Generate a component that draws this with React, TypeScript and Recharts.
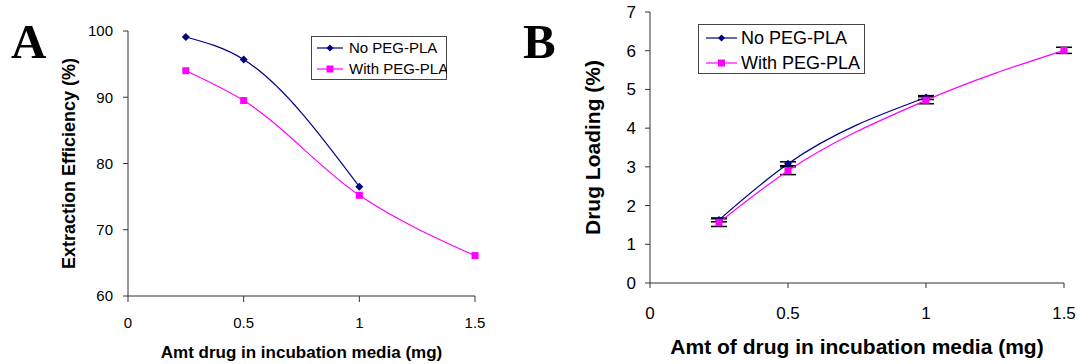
import { LineChart, Line, XAxis, YAxis, Legend, ErrorBar, Label } from 'recharts';

const FONT = '"Liberation Sans", Arial, sans-serif';
const NAVY = '#000080';
const MAGENTA = '#FF00FF';
const AXIS = '#333';

// x values (mg drug in incubation media)
const doses = [0.25, 0.5, 1, 1.5];
const xTicks = [0, 0.5, 1, 1.5];

// panel A: extraction efficiency (%)
const effNoPeg = [99.1, 95.7, 76.5, null];
const effWithPeg = [94.0, 89.5, 75.2, 66.1];
const effTicks = [60, 70, 80, 90, 100];

// panel B: drug loading (%)
const loadNoPeg = [1.63, 3.08, 4.79, null];
const loadNoPegErr = [0.05, 0.05, 0.05, null];
const loadWithPeg = [1.56, 2.9, 4.72, 6.01];
const loadWithPegErr = [0.1, 0.1, 0.09, 0.08];
const loadTicks = [0, 1, 2, 3, 4, 5, 6, 7];

const seriesNames = ['No PEG-PLA', 'With PEG-PLA'];

const effData = doses.map((x, i) => ({ x, noPeg: effNoPeg[i], withPeg: effWithPeg[i] }));
const loadData = doses.map((x, i) => ({
  x,
  noPeg: loadNoPeg[i],
  noPegErr: loadNoPegErr[i],
  withPeg: loadWithPeg[i],
  withPegErr: loadWithPegErr[i],
}));

const Diamond = (props: any) => {
  const { cx, cy, index } = props;
  if (cx == null || cy == null) return <g key={index} />;
  const r = 4;
  return <path key={index} d={`M${cx},${cy - r}L${cx + r},${cy}L${cx},${cy + r}L${cx - r},${cy}Z`} fill={NAVY} />;
};

const Square = (props: any) => {
  const { cx, cy, index } = props;
  if (cx == null || cy == null) return <g key={index} />;
  const r = 3.5;
  return <rect key={index} x={cx - r} y={cy - r} width={r * 2} height={r * 2} fill={MAGENTA} />;
};

function LegendBox({ w, h, rows, x0, x1, tx, fontSize }: any) {
  const mx = (x0 + x1) / 2;
  return (
    <svg width={w} height={h} style={{ display: 'block' }}>
      <rect x={0.5} y={0.5} width={w - 1} height={h - 1} fill="#fff" stroke="#444" strokeWidth={1} />
      <line x1={x0} x2={x1} y1={rows[0]} y2={rows[0]} stroke={NAVY} strokeWidth={1.2} />
      <path d={`M${mx},${rows[0] - 3.5}L${mx + 3.5},${rows[0]}L${mx},${rows[0] + 3.5}L${mx - 3.5},${rows[0]}Z`} fill={NAVY} />
      <text x={tx} y={rows[0]} dy="0.36em" fontSize={fontSize} fontFamily={FONT} fill="#000">{seriesNames[0]}</text>
      <line x1={x0} x2={x1} y1={rows[1]} y2={rows[1]} stroke={MAGENTA} strokeWidth={1.2} />
      <rect x={mx - 3.5} y={rows[1] - 3.5} width={7} height={7} fill={MAGENTA} />
      <text x={tx} y={rows[1]} dy="0.36em" fontSize={fontSize} fontFamily={FONT} fill="#000">{seriesNames[1]}</text>
    </svg>
  );
}

export default function App() {
  return (
    <div style={{ position: 'absolute', left: 0, top: 0, width: 1081, height: 364, background: '#fff' }}>
      <div style={{ position: 'absolute', left: 0, top: 0 }}>
        <LineChart width={540} height={364} data={effData} margin={{ top: 31, right: 65, bottom: 0, left: 58 }}>
          <XAxis
            type="number"
            dataKey="x"
            domain={[0, 1.5]}
            ticks={xTicks}
            height={68}
            tickSize={6}
            tickMargin={15}
            stroke={AXIS}
            tick={{ fontSize: 15, fill: '#000', fontFamily: FONT }}
          >
            <Label
              value="Amt drug in incubation media (mg)"
              position="insideBottom"
              offset={6}
              style={{ fontSize: 17, fontWeight: 'bold', fill: '#000', fontFamily: FONT, textAnchor: 'middle' }}
            />
          </XAxis>
          <YAxis
            type="number"
            domain={[60, 100]}
            ticks={effTicks}
            width={70}
            tickSize={5}
            tickMargin={10}
            stroke={AXIS}
            tick={{ fontSize: 15, fill: '#000', fontFamily: FONT }}
          >
            <Label
              value="Extraction Efficiency (%)"
              angle={-90}
              position="insideLeft"
              offset={11}
              style={{ fontSize: 18, fontWeight: 'bold', fill: '#000', fontFamily: FONT, textAnchor: 'middle' }}
            />
          </YAxis>
          <Legend
            layout="vertical"
            align="center"
            verticalAlign="middle"
            wrapperStyle={{ left: 311, top: 36, width: 136, height: 44 }}
            content={() => <LegendBox w={136} h={44} rows={[12, 33]} x0={6} x1={32} tx={38} fontSize={15} />}
          />
          <Line type="monotone" dataKey="noPeg" stroke={NAVY} strokeWidth={1.2} dot={Diamond} activeDot={false} isAnimationActive={false} />
          <Line type="monotone" dataKey="withPeg" stroke={MAGENTA} strokeWidth={1.2} dot={Square} activeDot={false} isAnimationActive={false} />
        </LineChart>
      </div>
      <div style={{ position: 'absolute', left: 540, top: 0 }}>
        <LineChart width={541} height={364} data={loadData} margin={{ top: 12, right: 17, bottom: 0, left: 30 }}>
          <XAxis
            type="number"
            dataKey="x"
            domain={[0, 1.5]}
            ticks={xTicks}
            height={81}
            tickSize={5}
            tickMargin={19}
            stroke={AXIS}
            tick={{ fontSize: 17, fill: '#000', fontFamily: FONT }}
          >
            <Label
              value="Amt of drug in incubation media (mg)"
              position="insideBottom"
              offset={10}
              style={{ fontSize: 21, fontWeight: 'bold', fill: '#000', fontFamily: FONT, textAnchor: 'middle' }}
            />
          </XAxis>
          <YAxis
            type="number"
            domain={[0, 7]}
            ticks={loadTicks}
            width={80}
            tickSize={5}
            tickMargin={9}
            stroke={AXIS}
            tick={{ fontSize: 17, fill: '#000', fontFamily: FONT }}
          >
            <Label
              value="Drug Loading (%)"
              angle={-90}
              position="insideLeft"
              offset={23}
              style={{ fontSize: 21, fontWeight: 'bold', fill: '#000', fontFamily: FONT, textAnchor: 'middle' }}
            />
          </YAxis>
          <Legend
            layout="vertical"
            align="center"
            verticalAlign="middle"
            wrapperStyle={{ left: 158, top: 24, width: 167, height: 50 }}
            content={() => <LegendBox w={167} h={50} rows={[14, 39]} x0={8} x1={39} tx={43} fontSize={18} />}
          />
          <Line type="monotone" dataKey="noPeg" stroke={NAVY} strokeWidth={1.2} dot={Diamond} activeDot={false} isAnimationActive={false}>
            <ErrorBar dataKey="noPegErr" width={8} stroke="#000" strokeWidth={1.5} direction="y" isAnimationActive={false} />
          </Line>
          <Line type="monotone" dataKey="withPeg" stroke={MAGENTA} strokeWidth={1.2} dot={Square} activeDot={false} isAnimationActive={false}>
            <ErrorBar dataKey="withPegErr" width={8} stroke="#000" strokeWidth={1.5} direction="y" isAnimationActive={false} />
          </Line>
        </LineChart>
      </div>
      <svg width={1081} height={364} style={{ position: 'absolute', left: 0, top: 0, pointerEvents: 'none' }}>
        <text x={11} y={58} fontSize={49} fontWeight="bold" fontFamily='"Liberation Serif", "Times New Roman", serif' fill="#000">A</text>
        <text x={523} y={58} fontSize={49} fontWeight="bold" fontFamily='"Liberation Serif", "Times New Roman", serif' fill="#000">B</text>
      </svg>
    </div>
  );
}
